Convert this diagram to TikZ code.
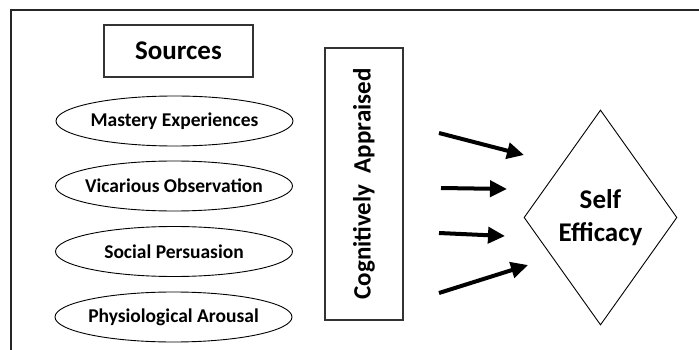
\documentclass[tikz,border=0pt]{standalone}
\usepackage{fontspec}
\setmainfont{Carlito}
\usetikzlibrary{shapes.geometric,arrows.meta}
\begin{document}
\begin{tikzpicture}[x=1pt,y=-1pt,
  source/.style={draw,ellipse,line width=0.9pt,minimum width=237pt,minimum height=50pt,
    inner xsep=-40pt,inner ysep=-6pt,font=\bfseries\fontsize{19.5}{22}\selectfont},
  push/.style={line width=4pt,-{Triangle[length=17pt,width=16pt]}}]
  \useasboundingbox (0,0) rectangle (699,350);
  % open frame
  \draw[line width=1.2pt,black!85] (11,350) -- (11,10) -- (699,10);
  \node[draw,line width=1.2pt,black!80,text=black,minimum width=149pt,minimum height=52pt,
    font=\bfseries\fontsize{27}{30}\selectfont] (sources) at (178.5,51) {Sources};
  \node[source] (mastery) at (174.5,121) {Mastery Experiences};
  \node[source] (vicarious) at (174,186) {Vicarious Observation};
  \node[source] (social) at (174,251.5) {Social Persuasion};
  \node[source] (arousal) at (173.5,317) {Physiological Arousal};
  \node[draw,line width=1.2pt,black!80,text=black,rotate=90,minimum width=272pt,minimum height=78pt,
    font=\bfseries\fontsize{25}{28}\selectfont] (appraised) at (364,184) {Cognitively\ \ Appraised};
  \node[draw,diamond,line width=0.9pt,minimum width=153pt,minimum height=215pt,inner sep=0pt,
    align=center,font=\bfseries\fontsize{27}{33}\selectfont] (efficacy) at (600.5,217.5) {Self\\Efficacy};
  % arrows
  \coordinate (s1) at (439,133); \coordinate (e1) at (524,155);
  \coordinate (s2) at (441,188); \coordinate (e2) at (507,189);
  \coordinate (s3) at (439,233); \coordinate (e3) at (505,236);
  \coordinate (s4) at (439,293); \coordinate (e4) at (528,265);
  \draw[push] (s1) -- (e1);
  \draw[push] (s2) -- (e2);
  \draw[push] (s3) -- (e3);
  \draw[push] (s4) -- (e4);
\end{tikzpicture}
\end{document}
